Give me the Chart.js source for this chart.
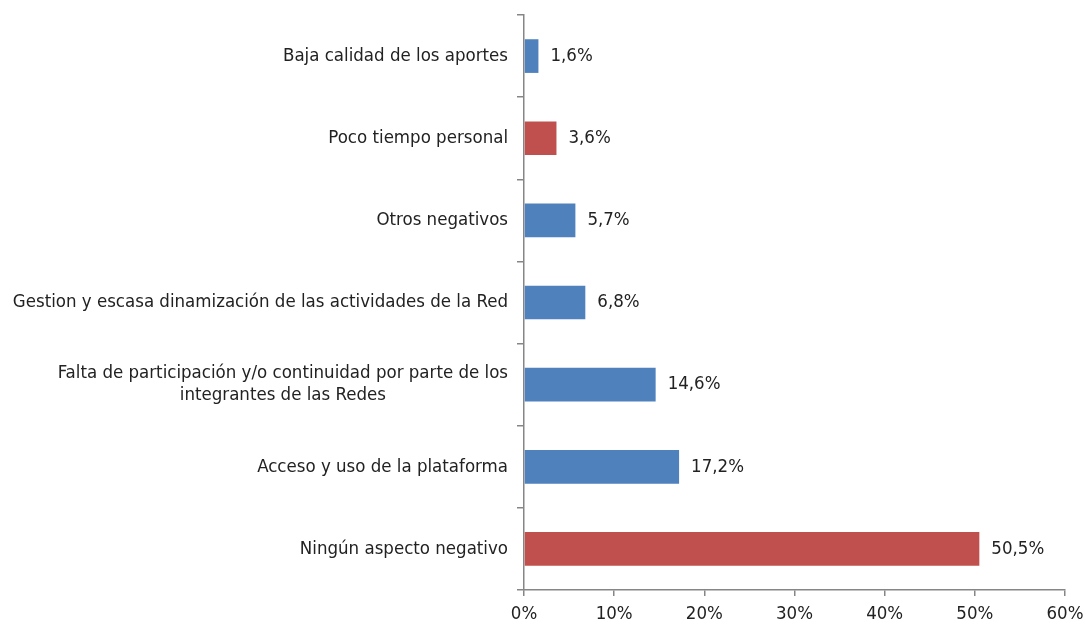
<!DOCTYPE html>
<html>
<head>
<meta charset="utf-8">
<script src="https://cdn.jsdelivr.net/npm/chart.js@4"></script>
<style>
  html, body { margin: 0; padding: 0; background: #fff; }
  #wrap { width: 1086px; height: 627px; }
</style>
</head>
<body>
<div id="wrap"><canvas id="negChart" width="1086" height="627"></canvas></div>
<script>
// categories top to bottom
const categories = [
    ["Baja calidad de los aportes"],
    ["Poco tiempo personal"],
    ["Otros negativos"],
    ["Gestion y escasa dinamización de las actividades de la Red"],
    ["Falta de participación y/o continuidad por parte de los", "integrantes de las Redes"],
    ["Acceso y uso de la plataforma"],
    ["Ningún aspecto negativo"]
];
const values = [1.6, 3.6, 5.7, 6.8, 14.6, 17.2, 50.5];
const barColors = ["#4F81BD", "#C0504D", "#4F81BD", "#4F81BD", "#4F81BD", "#4F81BD", "#C0504D"];
const xTicks = [0, 10, 20, 30, 40, 50, 60];

const FONT = "'Liberation Sans Narrow', 'Arial Narrow', 'DejaVu Sans Condensed', sans-serif";
const FONT_SIZE = 18.5;
const AXIS_COLOR = "#868686";

const fmt = (v) => v.toFixed(1).replace(".", ",") + "%";

// labels on the left, each block centred on its own widest line
const yLabelPlugin = {
    id: "yLabels",
    afterDraw(chart) {
        const ctx = chart.ctx;
        const yScale = chart.scales.y;
        const right = chart.chartArea.left - 16;
        ctx.save();
        ctx.font = FONT_SIZE + "px " + FONT;
        ctx.fillStyle = "#222";
        ctx.textAlign = "center";
        ctx.textBaseline = "middle";
        const lineH = 22;
        categories.forEach((lines, i) => {
            const widest = Math.max(...lines.map((l) => ctx.measureText(l).width));
            const cx = right - widest / 2;
            const cy = yScale.getPixelForValue(i);
            const top = cy - ((lines.length - 1) * lineH) / 2;
            lines.forEach((l, j) => ctx.fillText(l, cx, top + j * lineH));
        });
        ctx.restore();
    }
};

// value labels to the right of each bar
const valueLabelPlugin = {
    id: "valueLabels",
    afterDatasetsDraw(chart) {
        const ctx = chart.ctx;
        const meta = chart.getDatasetMeta(0);
        ctx.save();
        ctx.font = FONT_SIZE + "px " + FONT;
        ctx.fillStyle = "#222";
        ctx.textAlign = "left";
        ctx.textBaseline = "middle";
        meta.data.forEach((bar, i) => {
            ctx.fillText(fmt(values[i]), bar.x + 12, bar.y);
        });
        ctx.restore();
    }
};

new Chart(document.getElementById("negChart").getContext("2d"), {
    type: "bar",
    data: {
        labels: categories.map((c) => c.join(" ")),
        datasets: [{
            data: values,
            backgroundColor: barColors,
            barPercentage: 0.41,
            categoryPercentage: 1.0
        }]
    },
    options: {
        indexAxis: "y",
        responsive: false,
        animation: false,
        layout: { padding: { top: 15, right: 21, left: 0, bottom: 0 } },
        plugins: {
            legend: { display: false },
            tooltip: { enabled: false }
        },
        scales: {
            x: {
                min: 0,
                max: 60,
                afterBuildTicks: (scale) => { scale.ticks = xTicks.map((v) => ({ value: v })); },
                afterFit: (scale) => {
                    scale.height = 37;
                    scale.paddingLeft = 0;
                    scale.paddingRight = 0;
                },
                border: { color: AXIS_COLOR, width: 1.5 },
                grid: { drawOnChartArea: false, drawTicks: true, tickLength: 6, color: AXIS_COLOR, lineWidth: 1.5 },
                ticks: {
                    padding: 7,
                    color: "#222",
                    font: { family: FONT, size: FONT_SIZE },
                    callback: (v) => v + "%"
                }
            },
            y: {
                afterFit: (scale) => { scale.width = 524; },
                border: { color: AXIS_COLOR, width: 1.5 },
                grid: { drawOnChartArea: false, drawTicks: true, tickLength: 7, color: AXIS_COLOR, lineWidth: 1.5, offset: true },
                ticks: { display: false }
            }
        }
    },
    plugins: [yLabelPlugin, valueLabelPlugin]
});
</script>
</body>
</html>
